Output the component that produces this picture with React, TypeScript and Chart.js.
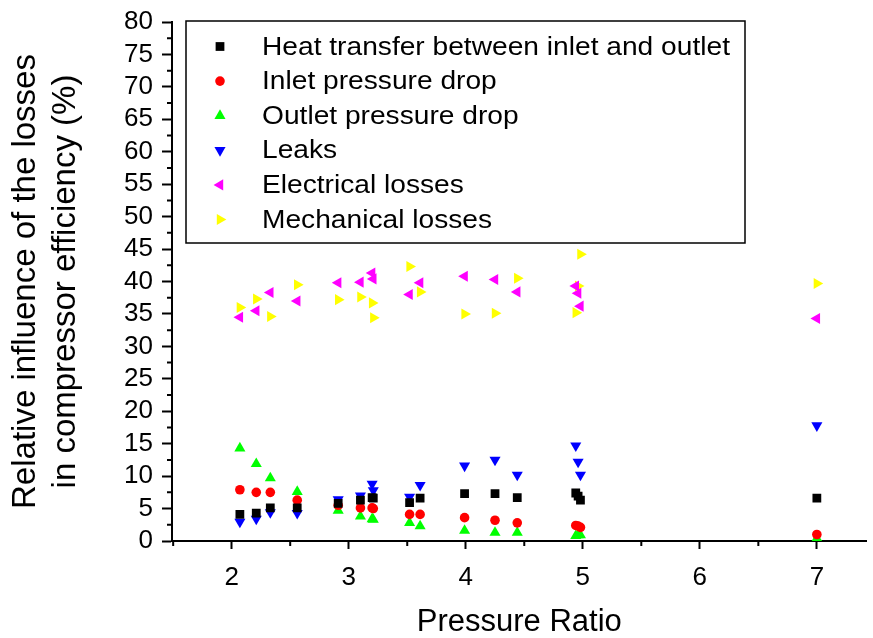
import React, { useEffect, useRef } from 'react';
import { Chart, registerables } from 'chart.js';

Chart.register(...registerables);

// ---------- data ----------
const pressureRatio = [2.07, 2.21, 2.33, 2.56, 2.91, 3.10, 3.20, 3.21, 3.52, 3.61, 3.99, 4.25, 4.44, 4.94, 4.96, 4.98, 7.0];
const heatTransfer = [4.1, 4.3, 5.1, 5.1, 5.8, 6.3, 6.7, 6.6, 5.9, 6.6, 7.3, 7.3, 6.7, 7.4, 6.9, 6.3, 6.6];
const inletDrop = [7.9, 7.5, 7.5, 6.3, 5.5, 5.1, 5.1, 5.0, 4.1, 4.1, 3.6, 3.2, 2.8, 2.4, 2.3, 2.1, 1.0];
const outletDrop = [14.3, 11.9, 9.7, 7.6, 4.7, 3.8, 3.4, 3.3, 2.8, 2.3, 1.6, 1.3, 1.3, 0.8, 0.9, 0.9, 0.4];
const leaks = [2.95, 3.4, 4.4, 4.3, 6.4, 7.0, 8.8, 7.8, 6.8, 8.6, 11.6, 12.5, 10.2, 14.7, 12.2, 10.2, 17.8];
const electrical = [34.5, 35.5, 38.3, 37.0, 39.8, 39.9, 41.3, 40.4, 38.0, 39.8, 40.8, 40.3, 38.4, 39.3, 38.2, 36.2, 34.3];
const mechanical = [36.0, 37.3, 34.6, 39.5, 37.2, 37.6, 36.7, 34.4, 42.3, 38.4, 35.0, 35.1, 40.5, 35.2, 39.3, 44.2, 39.7];

const seriesNames = [
  'Heat transfer between inlet and outlet',
  'Inlet pressure drop',
  'Outlet pressure drop',
  'Leaks',
  'Electrical losses',
  'Mechanical losses',
];
const seriesValues = [heatTransfer, inletDrop, outletDrop, leaks, electrical, mechanical];
const seriesColors = ['#000000', '#ff0000', '#00ff00', '#0000ff', '#ff00ff', '#ffff00'];
const seriesShapes = ['rect', 'circle', 'triangle', 'triangle', 'triangle', 'triangle'];
const seriesRotations = [0, 0, 0, 180, 270, 90];
const seriesRadius = [6.2, 4.8, 6.4, 6.4, 6.4, 6.4];

const xTickValues = [2, 3, 4, 5, 6, 7];
const yTitle = ['Relative influence of the losses', 'in compressor efficiency (%)'];
const xTitle = 'Pressure Ratio';

const FONT = '"Liberation Sans", Arial, Helvetica, sans-serif';

function drawMarker(ctx: CanvasRenderingContext2D, shape: string, x: number, y: number, r: number, rotDeg: number) {
  ctx.beginPath();
  if (shape === 'rect') {
    const s = Math.SQRT1_2 * r;
    ctx.rect(x - s, y - s, 2 * s, 2 * s);
  } else if (shape === 'circle') {
    ctx.arc(x, y, r, 0, Math.PI * 2);
  } else {
    let rad = (rotDeg * Math.PI) / 180;
    ctx.moveTo(x + Math.sin(rad) * r, y - Math.cos(rad) * r);
    rad += (2 * Math.PI) / 3;
    ctx.lineTo(x + Math.sin(rad) * r, y - Math.cos(rad) * r);
    rad += (2 * Math.PI) / 3;
    ctx.lineTo(x + Math.sin(rad) * r, y - Math.cos(rad) * r);
    ctx.closePath();
  }
  ctx.fill();
}

const overlayPlugin = {
  id: 'overlay',
  afterDraw(chart: any) {
    const ctx: CanvasRenderingContext2D = chart.ctx;
    const xs = chart.scales.x;
    const ys = chart.scales.y;
    const area = chart.chartArea;
    ctx.save();
    // minor ticks
    ctx.strokeStyle = '#000';
    ctx.lineWidth = 2;
    ctx.beginPath();
    for (let v = ys.min + 2.5; v < ys.max; v += 5) {
      const py = ys.getPixelForValue(v);
      ctx.moveTo(area.left, py);
      ctx.lineTo(area.left - 5, py);
    }
    for (let v = Math.ceil(xs.min - 0.5) + 0.5; v <= xs.max; v += 1) {
      const px = xs.getPixelForValue(v);
      if (px < area.left - 1) continue;
      ctx.moveTo(px, area.bottom);
      ctx.lineTo(px, area.bottom + 5);
    }
    ctx.stroke();

    // legend box
    const bx = 186, by = 21, bw = 559, bh = 222;
    ctx.fillStyle = '#ffffff';
    ctx.fillRect(bx, by, bw, bh);
    ctx.lineWidth = 1.5;
    ctx.strokeStyle = '#000';
    ctx.strokeRect(bx, by, bw, bh);
    for (let i = 0; i < seriesNames.length; i++) {
      const ry = 46.5 + i * 34.6;
      ctx.fillStyle = seriesColors[i];
      drawMarker(ctx, seriesShapes[i], 220, ry, seriesRadius[i], seriesRotations[i]);
      ctx.save();
      ctx.translate(262, ry);
      ctx.scale(1.1, 1);
      ctx.fillStyle = '#000';
      ctx.font = `25.6px ${FONT}`;
      ctx.textBaseline = 'middle';
      ctx.textAlign = 'left';
      ctx.fillText(seriesNames[i], 0, 1);
      ctx.restore();
    }
    ctx.restore();
  },
};

export default function App() {
  const canvasRef = useRef<HTMLCanvasElement | null>(null);

  useEffect(() => {
    if (!canvasRef.current) return;
    Chart.defaults.font.family = FONT;
    const datasets = seriesNames.map((name, i) => ({
      label: name,
      data: pressureRatio.map((x, j) => ({ x, y: seriesValues[i][j] })),
      showLine: false,
      pointStyle: seriesShapes[i],
      pointRotation: seriesRotations[i],
      pointRadius: seriesRadius[i],
      pointHoverRadius: seriesRadius[i],
      pointBackgroundColor: seriesColors[i],
      pointBorderColor: seriesColors[i],
      pointBorderWidth: 0,
      backgroundColor: seriesColors[i],
      borderColor: seriesColors[i],
    }));
    const chart = new Chart(canvasRef.current, {
      type: 'scatter',
      data: { datasets },
      options: {
        animation: false,
        responsive: false,
        maintainAspectRatio: false,
        layout: { padding: { top: 19.5, left: 0, right: 0, bottom: 0 } },
        plugins: { legend: { display: false }, tooltip: { enabled: false } },
        scales: {
          x: {
            type: 'linear',
            min: 1.49,
            max: 7.425,
            afterFit: (s: any) => { s.height = 97; },
            afterBuildTicks: (s: any) => { s.ticks = xTickValues.map((v) => ({ value: v })); },
            border: { display: true, color: '#000', width: 2 },
            grid: { display: true, drawOnChartArea: false, drawTicks: true, tickLength: 8, tickWidth: 2, tickColor: '#000' },
            ticks: { color: '#000', padding: 14, font: { size: 26, lineHeight: 1.15 }, maxRotation: 0, autoSkip: false, callback: (v: any) => String(v) },
            title: { display: true, text: xTitle, color: '#000', font: { size: 31, lineHeight: 1 }, padding: { top: 0, bottom: 0 } },
          },
          y: {
            type: 'linear',
            min: 0,
            max: 80,
            afterFit: (s: any) => { s.width = 172; },
            border: { display: true, color: '#000', width: 2 },
            grid: { display: true, drawOnChartArea: false, drawTicks: true, tickLength: 10, tickWidth: 2, tickColor: '#000' },
            ticks: { color: '#000', padding: 9, stepSize: 5, autoSkip: false, font: { size: 26, lineHeight: 1.0 } },
            title: { display: true, text: yTitle, color: '#000', font: { size: 33, lineHeight: 1.212 }, padding: { top: 6, bottom: 0 } },
          },
        },
      },
      plugins: [overlayPlugin],
    } as any);
    return () => chart.destroy();
  }, []);

  return (
    <div style={{ position: 'fixed', left: 0, top: 0, width: 873, height: 638, background: '#fff' }}>
      <canvas ref={canvasRef} width={873} height={638} style={{ display: 'block' }} />
    </div>
  );
}
